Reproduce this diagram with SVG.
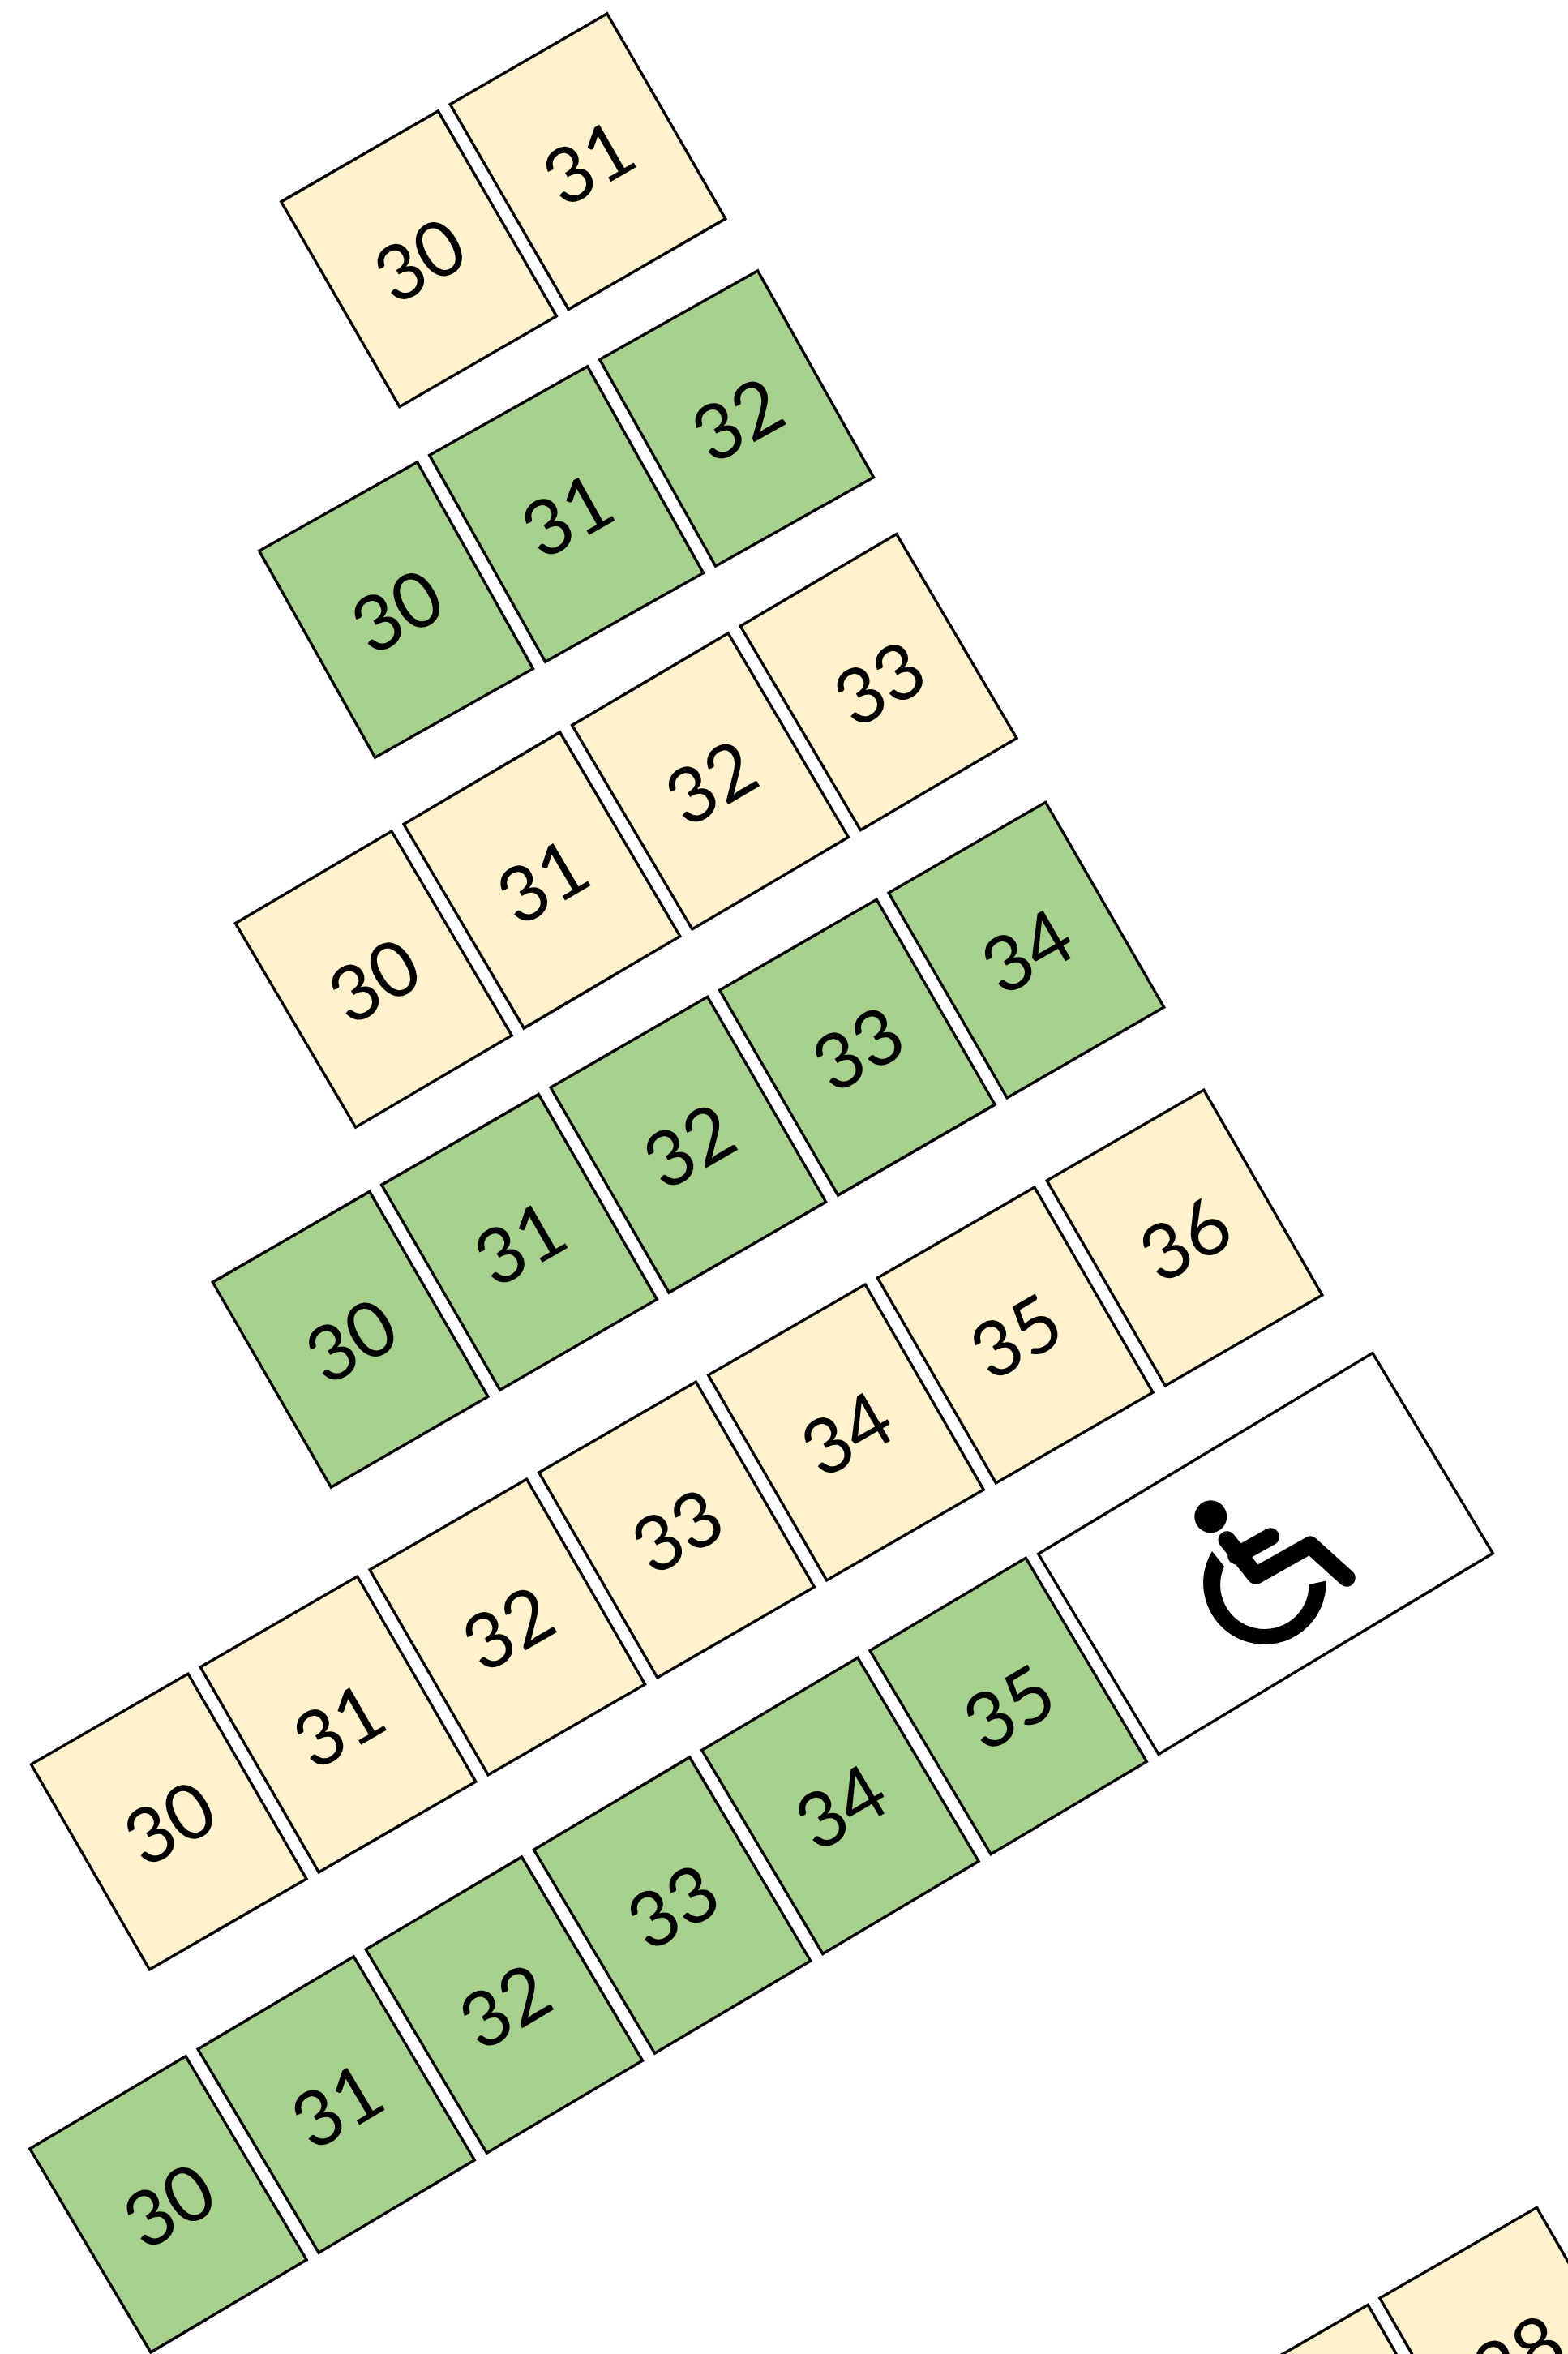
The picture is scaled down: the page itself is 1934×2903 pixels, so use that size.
<svg xmlns="http://www.w3.org/2000/svg" width="1934" height="2903" viewBox="0 0 1934 2903">
<style>
.c{fill:#FFF2CC;stroke:#000;stroke-width:3.5}
.g{fill:#A9D18E;stroke:#000;stroke-width:3.5}
text{font-family:"Lato","Open Sans",sans-serif;font-size:95px;text-anchor:middle;fill:#000}
</style>
<defs>
<rect id="b" x="-111.75" y="-146" width="223.5" height="292"/>
</defs>
<rect width="1934" height="2903" fill="#fff"/>
<g id="row1">
<g id="r1-30" transform="translate(516.6 319.3) rotate(-30)"><use href="#b" class="c"/><text y="36">30</text></g>
<g id="r1-31" transform="translate(725 199.2) rotate(-30)"><use href="#b" class="c"/><text y="36">31</text></g>
</g>
<g id="row2">
<g id="r2-30" transform="translate(488.6 752) rotate(-29.3)"><use href="#b" class="g"/><text y="36">30</text></g>
<g id="r2-31" transform="translate(698.6 634) rotate(-29.3)"><use href="#b" class="g"/><text y="36">31</text></g>
<g id="r2-32" transform="translate(908.6 516) rotate(-29.3)"><use href="#b" class="g"/><text y="36">32</text></g>
</g>
<g id="row3">
<g id="r3-30" transform="translate(460.8 1207.7) rotate(-30.5)"><use href="#b" class="c"/><text y="36">30</text></g>
<g id="r3-31" transform="translate(668.4 1085.5) rotate(-30.5)"><use href="#b" class="c"/><text y="36">31</text></g>
<g id="r3-32" transform="translate(876 963.4) rotate(-30.5)"><use href="#b" class="c"/><text y="36">32</text></g>
<g id="r3-33" transform="translate(1083.6 841.2) rotate(-30.5)"><use href="#b" class="c"/><text y="36">33</text></g>
</g>
<g id="row4">
<g id="r4-30" transform="translate(432.1 1651.8) rotate(-30)"><use href="#b" class="g"/><text y="36">30</text></g>
<g id="r4-31" transform="translate(640.5 1531.8) rotate(-30)"><use href="#b" class="g"/><text y="36">31</text></g>
<g id="r4-32" transform="translate(848.9 1411.7) rotate(-30)"><use href="#b" class="g"/><text y="36">32</text></g>
<g id="r4-33" transform="translate(1057.4 1291.7) rotate(-30)"><use href="#b" class="g"/><text y="36">33</text></g>
<g id="r4-34" transform="translate(1265.9 1171.6) rotate(-30)"><use href="#b" class="g"/><text y="36">34</text></g>
</g>
<g id="row5">
<g id="r5-30" transform="translate(208.2 2246.5) rotate(-30)"><use href="#b" class="c"/><text y="36">30</text></g>
<g id="r5-31" transform="translate(417 2126.5) rotate(-30)"><use href="#b" class="c"/><text y="36">31</text></g>
<g id="r5-32" transform="translate(625.8 2006.5) rotate(-30)"><use href="#b" class="c"/><text y="36">32</text></g>
<g id="r5-33" transform="translate(834.6 1886.5) rotate(-30)"><use href="#b" class="c"/><text y="36">33</text></g>
<g id="r5-34" transform="translate(1043.4 1766.5) rotate(-30)"><use href="#b" class="c"/><text y="36">34</text></g>
<g id="r5-35" transform="translate(1252.2 1646.5) rotate(-30)"><use href="#b" class="c"/><text y="36">35</text></g>
<g id="r5-36" transform="translate(1461 1526.5) rotate(-30)"><use href="#b" class="c"/><text y="36">36</text></g>
</g>
<g id="row6">
<g id="r6-30" transform="translate(207.5 2718.4) rotate(-30.7)"><use href="#b" class="g"/><text y="36">30</text></g>
<g id="r6-31" transform="translate(414.7 2595.5) rotate(-30.7)"><use href="#b" class="g"/><text y="36">31</text></g>
<g id="r6-32" transform="translate(621.9 2472.6) rotate(-30.7)"><use href="#b" class="g"/><text y="36">32</text></g>
<g id="r6-33" transform="translate(829.1 2349.6) rotate(-30.7)"><use href="#b" class="g"/><text y="36">33</text></g>
<g id="r6-34" transform="translate(1036.4 2226.9) rotate(-30.7)"><use href="#b" class="g"/><text y="36">34</text></g>
<g id="r6-35" transform="translate(1243.7 2104) rotate(-30.7)"><use href="#b" class="g"/><text y="36">35</text></g>
</g>
<g id="accessible-space">
<rect x="-240.5" y="-144" width="481" height="288" transform="translate(1561 1916) rotate(-31)" fill="#fff" stroke="#000" stroke-width="3.5"/>
<circle cx="1493.3" cy="1870.3" r="20"/>
<path d="M1513.3 1899L1549 1943.2L1616 1905.3L1661 1946" fill="none" stroke="#000" stroke-width="21.5" stroke-linecap="round" stroke-linejoin="round"/>
<path d="M1525 1918.7L1567.3 1895" fill="none" stroke="#000" stroke-width="21.5" stroke-linecap="round"/>
<path d="M1495 1913A75.8 75.8 0 1 0 1635.6 1949.5L1614.5 1954A54.7 54.7 0 1 1 1510 1931.7Z"/>
</g>
<g id="row7">
<g id="r7-27" transform="translate(1663.5 3024.7) rotate(-30)"><use href="#b" class="c"/></g>
<g id="r7-28" transform="translate(1871.7 2904.7) rotate(-30)"><use href="#b" class="c"/><text y="36">28</text></g>
</g>
</svg>
